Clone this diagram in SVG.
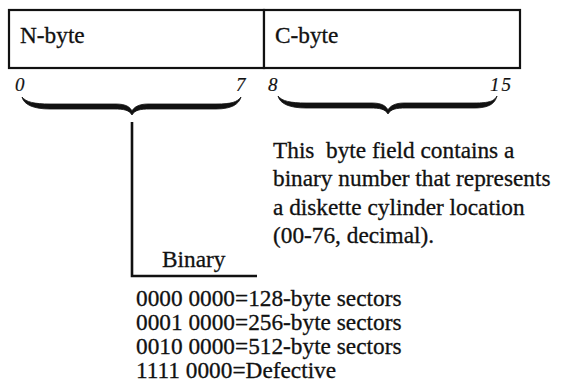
<svg xmlns="http://www.w3.org/2000/svg" width="561" height="389" viewBox="0 0 561 389">
<style>
  .t { font-family: "Liberation Serif", "Times New Roman", serif; font-size: 23.3px; fill: #111; stroke: #111; stroke-width: 0.3; }
  .bit { font-family: "Liberation Serif", "Times New Roman", serif; font-size: 19px; font-style: italic; fill: #111; stroke: #111; stroke-width: 0.2; }
  .box { fill: #fff; stroke: #111; stroke-width: 2.2; }
  .brace { fill: #111; stroke: #111; stroke-width: 0.8; stroke-linejoin: round; }
  .line { fill: none; stroke: #111; stroke-width: 2.6; }
</style>
<rect width="561" height="389" fill="#fff"/>
<g id="n-byte">
  <rect class="box" x="9" y="10" width="255" height="58"/>
  <text class="t" x="20" y="43">N-byte</text>
</g>
<g id="c-byte">
  <rect class="box" x="264" y="10" width="256" height="58"/>
  <text class="t" x="275" y="43">C-byte</text>
</g>
<g id="bit-labels">
  <text class="bit" x="15" y="91">0</text>
  <text class="bit" x="236" y="91">7</text>
  <text class="bit" x="268" y="91">8</text>
  <text class="bit" x="490" y="91" letter-spacing="2">15</text>
</g>
<g id="brace-n">
  <path class="brace" d="M22,97 C26,102 34,104 50,104 L116,104 C126,104 130,107 132,111 C134,107 139,104 148,104 L216,104 C232,104 237,102 241,97 C239,104 232,109 216,109 L150,109 C140,109 135,110 132,115 C129,110 124,109 114,109 L50,109 C34,109 24,105 22,97 Z"/>
</g>
<g id="brace-c">
  <path class="brace" d="M278,96 C282,101 290,103 306,103 L372,103 C382,103 386,106 388,110 C390,106 395,103 404,103 L474,103 C490,103 494,101 497,96 C495,103 490,108 474,108 L406,108 C396,108 391,109 388,114 C385,109 380,108 370,108 L306,108 C290,108 280,104 278,96 Z"/>
</g>
<g id="connectors">
  <path class="line" d="M132,122 L132,276 L257,276"/>
</g>
<g id="c-description">
  <text class="t" x="273" y="158" xml:space="preserve">This  byte field contains a</text>
  <text class="t" x="273" y="186">binary number that represents</text>
  <text class="t" x="273" y="215">a diskette cylinder location</text>
  <text class="t" x="273" y="243">(00-76, decimal).</text>
</g>
<g id="binary-label">
  <text class="t" x="162" y="267">Binary</text>
</g>
<g id="binary-values">
  <text class="t" x="136" y="306">0000 0000=128-byte sectors</text>
  <text class="t" x="136" y="330">0001 0000=256-byte sectors</text>
  <text class="t" x="136" y="354">0010 0000=512-byte sectors</text>
  <text class="t" x="136" y="378">1111 0000=Defective</text>
</g>
</svg>
